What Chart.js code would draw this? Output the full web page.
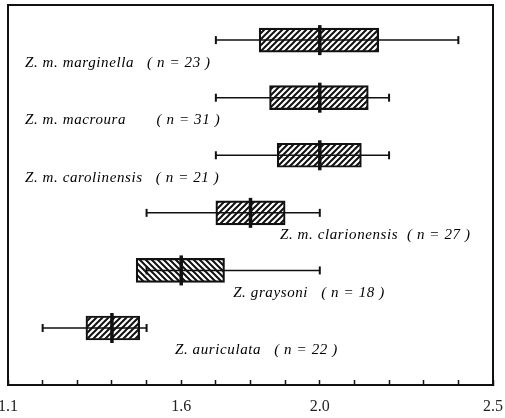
<!DOCTYPE html>
<html lang="en">
<head>
<meta charset="UTF-8" />
<title>Zosterops – box plots</title>
<script src="https://cdn.jsdelivr.net/npm/chart.js"></script>
<style>
  html, body { margin: 0; padding: 0; background: #fff; }
  #wrap { width: 505px; height: 418px; }
</style>
</head>
<body>
<div id="wrap"><canvas id="chart" width="505" height="418"></canvas></div>
<script>
  // Daten
  const taxa = ['Z. m. marginella', 'Z. m. macroura', 'Z. m. carolinensis', 'Z. m. clarionensis', 'Z. graysoni', 'Z. auriculata'];
  const sampleSizes = [23, 31, 21, 27, 18, 22];
  const whiskerLow  = [1.70, 1.70, 1.70, 1.50, 1.50, 1.20];
  const boxLow      = [1.825, 1.855, 1.877, 1.70, 1.47, 1.325];
  const medians     = [2.00, 2.00, 2.00, 1.80, 1.60, 1.40];
  const boxHigh     = [2.17, 2.14, 2.12, 1.90, 1.725, 1.48];
  const whiskerHigh = [2.40, 2.20, 2.20, 2.00, 2.00, 1.50];
  const tickLabels  = ['1.1', '1.6', '2.0', '2.5'];

  // Lage der Beschriftungen (x in Achsenwerten, y relativ zur Zeile)
  const labelX = [1.149, 1.149, 1.149, 1.885, 1.75, 1.582];
  const labelGap = ['  ', '      ', '  ', ' ', '  ', '  '];
  const labelDy = 0.39;

  const canvas = document.getElementById('chart');
  const ctx = canvas.getContext('2d');

  function hatch(back) {
    const c = document.createElement('canvas');
    c.width = c.height = 6;
    const g = c.getContext('2d');
    g.strokeStyle = '#111';
    g.lineWidth = 2;
    g.beginPath();
    if (!back) {
      g.moveTo(0, 6); g.lineTo(6, 0);
      g.moveTo(-1, 1); g.lineTo(1, -1);
      g.moveTo(5, 7); g.lineTo(7, 5);
    } else {
      g.moveTo(0, 0); g.lineTo(6, 6);
      g.moveTo(-1, 5); g.lineTo(1, 7);
      g.moveTo(5, -1); g.lineTo(7, 1);
    }
    g.stroke();
    return ctx.createPattern(c, 'repeat');
  }

  const fwd = hatch(false), bwd = hatch(true);

  const frame = {
    id: 'frame',
    afterDraw(chart) {
      const { ctx, chartArea: a } = chart;
      ctx.save();
      ctx.strokeStyle = '#111';
      ctx.lineWidth = 2;
      ctx.beginPath();
      ctx.moveTo(a.left, a.bottom);
      ctx.lineTo(a.left, a.top);
      ctx.lineTo(a.right, a.top);
      ctx.lineTo(a.right, a.bottom);
      ctx.stroke();
      ctx.restore();
    }
  };

  const taxonLabels = {
    id: 'taxonLabels',
    afterDatasetsDraw(chart) {
      const { ctx, scales: { x, y } } = chart;
      ctx.save();
      ctx.font = 'italic 15px "Liberation Serif"';
      ctx.letterSpacing = '0.6px';
      ctx.fillStyle = '#000';
      ctx.textBaseline = 'middle';
      taxa.forEach((t, i) => {
        ctx.fillText(`${t}${labelGap[i]} ( n = ${sampleSizes[i]} )`, x.getPixelForValue(labelX[i]), y.getPixelForValue(i + labelDy));
      });
      ctx.restore();
    }
  };

  const whiskerSets = taxa.map((t, i) => ({
    type: 'line',
    data: [{ x: whiskerLow[i], y: i }, { x: whiskerHigh[i], y: i }],
    borderColor: '#111',
    borderWidth: 1.5,
    pointStyle: 'line',
    rotation: 90,
    pointRadius: 4,
    pointBorderWidth: 2,
    pointBorderColor: '#111',
    order: 2
  }));

  new Chart(ctx, {
    type: 'bar',
    data: {
      datasets: [
        {
          type: 'line',
          data: medians.map((m, i) => ({ x: m, y: i })),
          showLine: false,
          pointStyle: 'line',
          rotation: 90,
          pointRadius: 15,
          pointBorderWidth: 3.5,
          pointBorderColor: '#111',
          order: 1
        },
        ...whiskerSets,
        {
          type: 'bar',
          indexAxis: 'y',
          data: taxa.map((t, i) => ({ x: [boxLow[i], boxHigh[i]], y: i })),
          backgroundColor: taxa.map((t, i) => (i === 4 ? bwd : fwd)),
          borderColor: '#111',
          borderWidth: 1.5,
          borderSkipped: false,
          barThickness: 24,
          order: 3
        }
      ]
    },
    options: {
      responsive: false,
      animation: false,
      layout: { autoPadding: false, padding: { left: 8, right: 12, top: 5, bottom: 0 } },
      plugins: { legend: { display: false }, tooltip: { enabled: false } },
      scales: {
        x: {
          type: 'linear',
          position: 'bottom',
          offset: false,
          min: 1.1,
          max: 2.5,
          afterFit: s => { s.height = 33; s.paddingLeft = 0; s.paddingRight = 0; },
          border: { color: '#111', width: 2 },
          grid: { offset: false, drawOnChartArea: false, tickLength: -5, tickColor: '#111', tickWidth: 1.5 },
          ticks: {
            stepSize: 0.1,
            autoSkip: false,
            maxRotation: 0,
            padding: 17,
            color: '#222',
            font: { family: '"Liberation Serif"', size: 16 },
            callback: v => {
              const hit = tickLabels.find(l => Math.abs(parseFloat(l) - v) < 1e-6);
              return hit || '';
            }
          }
        },
        y: {
          type: 'linear',
          reverse: true,
          offset: false,
          min: -0.61,
          max: 5.99,
          display: false
        }
      }
    },
    plugins: [frame, taxonLabels]
  });
</script>
</body>
</html>
